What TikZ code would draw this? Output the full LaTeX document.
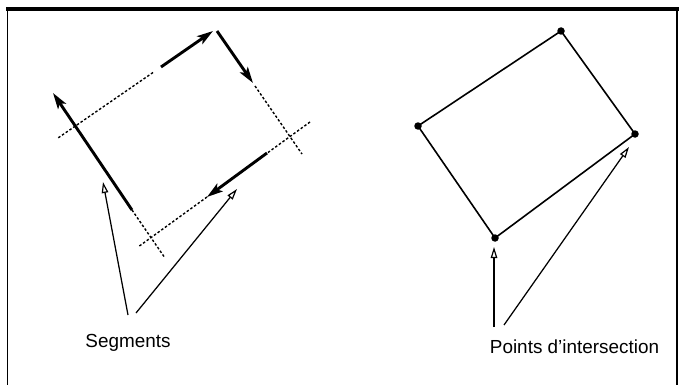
\documentclass[tikz,border=0pt]{standalone}
\usepackage{fontspec}
\setmainfont{Liberation Sans}
\usetikzlibrary{arrows.meta}
\begin{document}
\begin{tikzpicture}[x=1pt,y=-1pt,
  seg/.style={line width=2.9pt, -{Stealth[length=16pt,width=9.5pt,inset=3.5pt]}},
  ext/.style={line width=1.4pt, dash pattern=on 2.5pt off 2pt},
  ptr/.style={line width=1.25pt, -{Triangle[open,length=11pt,width=6.5pt,line width=1.2pt]}},
  poly/.style={line width=1.6pt},
  dot/.style={circle, fill=black, inner sep=0pt, minimum size=7.5pt},
  lbl/.style={font=\fontsize{18.9}{22}\selectfont, inner sep=0pt},
  topframe/.style={line width=4pt},
  sideframe/.style={line width=1.5pt}]
\useasboundingbox (0,0) rectangle (679,385);
% frame
\coordinate (ftl) at (6,9);
\coordinate (ftr) at (679,9);
\coordinate (fl1) at (7.5,9);
\coordinate (fl2) at (7.5,385);
\coordinate (fr1) at (677,9);
\coordinate (fr2) at (677,385);
\draw[topframe] (ftl) -- (ftr);
\draw[sideframe] (fl1) -- (fl2);
\draw[sideframe] (fr1) -- (fr2);
% left figure: line A (top)
\coordinate (a1) at (161,67);
\coordinate (a2) at (213,31);
\coordinate (a3) at (153,72.5);
\coordinate (a4) at (58,138);
\draw[seg] (a1) -- (a2);
\draw[ext] (a3) -- (a4);
% line B (right)
\coordinate (b1) at (217,31);
\coordinate (b2) at (253,83);
\coordinate (b3) at (255,86);
\coordinate (b4) at (302,154);
\draw[seg] (b1) -- (b2);
\draw[ext] (b3) -- (b4);
% line C (bottom)
\coordinate (c0) at (310,122);
\coordinate (c1) at (268,152.5);
\coordinate (c2) at (267,153);
\coordinate (c3) at (207,197);
\coordinate (c4) at (138,247);
\draw[ext] (c0) -- (c1);
\draw[seg] (c2) -- (c3);
\draw[ext] (c3) -- (c4);
% line D (left)
\coordinate (d1) at (132,210);
\coordinate (d2) at (53,93);
\coordinate (d3) at (165,258);
\draw[seg] (d1) -- (d2);
\draw[ext] (d1) -- (d3);
% labels
\node[lbl] (seglbl) at (128,343) {Segments};
\node[lbl] (ptslbl) at (574.5,347) {Points d'intersection};
% pointers for segments
\coordinate (s1) at (128,315);
\coordinate (s1t) at (103,182);
\coordinate (s2) at (136,313);
\coordinate (s2t) at (237,189);
\draw[ptr] (s1) -- (s1t);
\draw[ptr] (s2) -- (s2t);
% right figure
\node[dot] (T) at (561,31) {};
\node[dot] (L) at (418,126) {};
\node[dot] (R) at (635,134) {};
\node[dot] (B) at (495,238) {};
\draw[poly] (L.center) -- (T.center) -- (R.center) -- (B.center) -- cycle;
\coordinate (p1) at (494,327);
\coordinate (p1t) at (494,247);
\coordinate (p2) at (504,325);
\coordinate (p2t) at (629,147);
\draw[ptr] (p1) -- (p1t);
\draw[ptr] (p2) -- (p2t);
\end{tikzpicture}
\end{document}
